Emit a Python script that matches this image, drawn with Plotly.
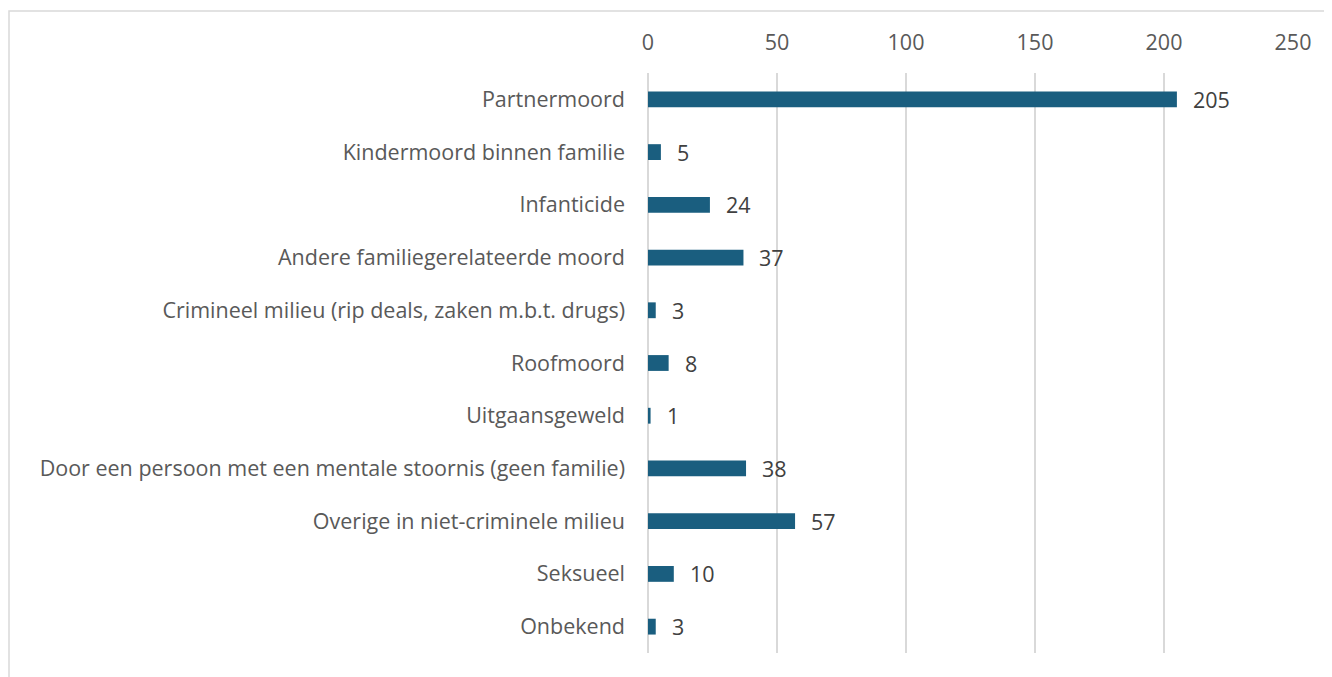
import plotly.graph_objects as go

categorieen = [
    "Partnermoord",
    "Kindermoord binnen familie",
    "Infanticide",
    "Andere familiegerelateerde moord",
    "Crimineel milieu (rip deals, zaken m.b.t. drugs)",
    "Roofmoord",
    "Uitgaansgeweld",
    "Door een persoon met een mentale stoornis (geen familie)",
    "Overige in niet-criminele milieu",
    "Seksueel",
    "Onbekend",
]
aantallen = [205, 5, 24, 37, 3, 8, 1, 38, 57, 10, 3]
x_ticks = [0, 50, 100, 150, 200, 250]

fig = go.Figure(go.Bar(
    x=aantallen,
    y=categorieen,
    orientation="h",
    marker=dict(color="#1a5e7f", line=dict(width=0)),
    width=0.3,
    hovertemplate="%{y}: %{x}<extra></extra>",
))

# waardelabels naast de balken
for cat, n in zip(categorieen, aantallen):
    fig.add_annotation(x=n, y=cat, text=str(n), showarrow=False,
                       xanchor="left", xshift=14,
                       font=dict(size=21.5, color="#404040"))

# page body adds an 8px offset, so margins are reduced by 8px on left/top
fig.update_layout(
    width=1332, height=677,
    margin=dict(l=640, r=47, t=65, b=32, autoexpand=False),
    paper_bgcolor="white", plot_bgcolor="white",
    font=dict(family="Open Sans, Roboto, sans-serif", size=21.5, color="#595959"),
    showlegend=False,
    shapes=[dict(type="rect", xref="paper", yref="paper",
                 x0=-0.9907, x1=1.1, y0=-0.1, y1=1.1069,
                 line=dict(color="#d9d9d9", width=1.5), fillcolor="rgba(0,0,0,0)",
                 layer="below")],
)
fig.update_xaxes(
    side="top", range=[0, 250], tickvals=x_ticks,
    showgrid=True, gridcolor="#d9d9d9", gridwidth=1.5,
    zeroline=True, zerolinecolor="#d9d9d9", zerolinewidth=1.5,
    showline=False, ticks="",
    ticklabelstandoff=18, automargin=False,
)
fig.update_yaxes(
    autorange="reversed", categoryorder="array", categoryarray=categorieen,
    showgrid=False, showline=False, ticks="", ticklabelstandoff=22,
    automargin=False,
)

fig.write_html("out.html")
